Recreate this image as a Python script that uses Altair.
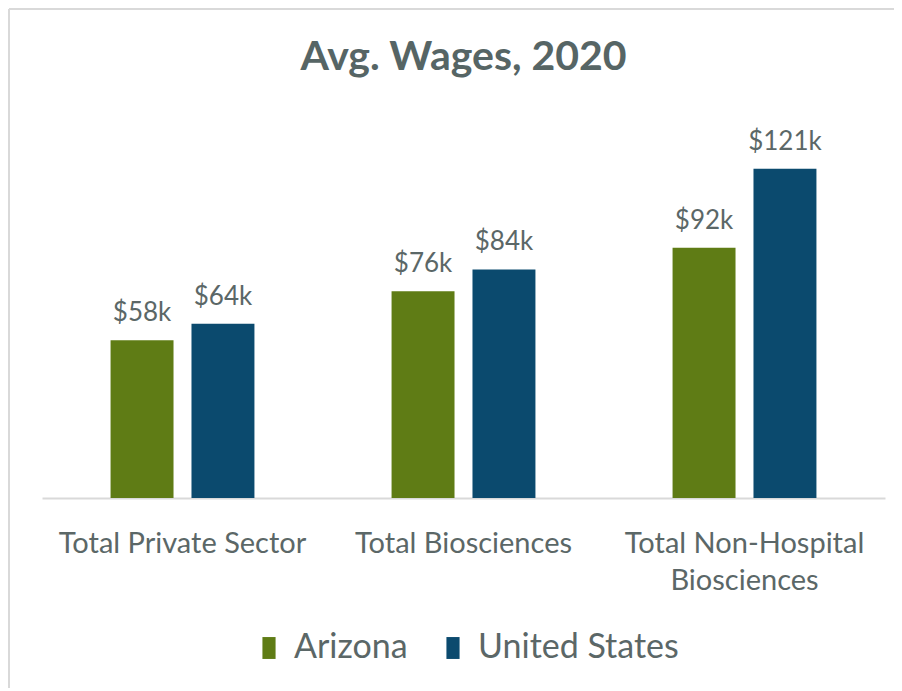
import altair as alt
import pandas as pd

categories = ["Total Private Sector", "Total Biosciences", "Total Non-Hospital Biosciences"]
series = ["Arizona", "United States"]
arizona = [58, 76, 92]
united_states = [64, 84, 121]

rows = []
for i, c in enumerate(categories):
    rows.append({"cat": c, "series": "Arizona", "value": arizona[i], "label": f"${arizona[i]}k"})
    rows.append({"cat": c, "series": "United States", "value": united_states[i], "label": f"${united_states[i]}k"})
df = pd.DataFrame(rows)

FONT = "Lato"
TXT = "#5b6767"
W, H = 843, 381

x = alt.X("cat:N", sort=categories, title=None,
          scale=alt.Scale(paddingInner=0.488, paddingOuter=0.244),
          axis=alt.Axis(labelAngle=0, ticks=False, domainColor="#d9d9d9", domainWidth=2,
                        labelFont=FONT, labelFontSize=29, labelColor=TXT, labelPadding=31,
                        labelLineHeight=37, labelBaseline="top", labelLimit=0,
                        labelExpr="datum.value == 'Total Non-Hospital Biosciences' ? ['Total Non-Hospital', 'Biosciences'] : datum.value"))
xo = alt.XOffset("series:N", sort=series, scale=alt.Scale(paddingInner=0.222))
y = alt.Y("value:Q", scale=alt.Scale(domain=[0, 140]), axis=None)

bars = alt.Chart(df).mark_bar().encode(
    x=x, xOffset=xo, y=y,
    color=alt.Color("series:N", sort=series, title=None,
                    scale=alt.Scale(domain=series, range=["#5f7c15", "#0b4a6e"]),
                    legend=alt.Legend(orient="none", direction="horizontal", legendX=210, legendY=514,
                                      symbolType="M-0.6,-1H0.6V1H-0.6Z", symbolSize=480,
                                      symbolStrokeWidth=0, labelFont=FONT, labelFontSize=34,
                                      labelColor=TXT, labelOffset=8, columnPadding=28,
                                      labelLimit=0, symbolOffset=0)),
)

labels = alt.Chart(df).mark_text(font=FONT, fontSize=26, color=TXT, baseline="alphabetic", dy=-19).encode(
    x=x, xOffset=xo, y=y, text="label:N"
)

border_top = alt.Chart(df).mark_rule(stroke="#d9d9d9", strokeWidth=2, clip=False).encode(
    x=alt.value(-33), x2=alt.value(W + 9), y=alt.value(-108)
)
border_left = alt.Chart(df).mark_rule(stroke="#d9d9d9", strokeWidth=2, clip=False).encode(
    x=alt.value(-33), y=alt.value(-108), y2=alt.value(H + 190)
)

chart = alt.layer(bars, labels, border_top, border_left).properties(
    width=W, height=H,
    title=alt.TitleParams("Avg. Wages, 2020", font=FONT, fontSize=41, fontWeight="bold",
                          color="#566565", anchor="middle", offset=-71, frame="group"),
    autosize=alt.AutoSizeParams(type="none"),
    padding={"left": 34, "top": 109, "right": 9, "bottom": 190},
).configure_view(stroke=None)

chart.save("out.html", embed_options={"renderer": "svg", "actions": False})
